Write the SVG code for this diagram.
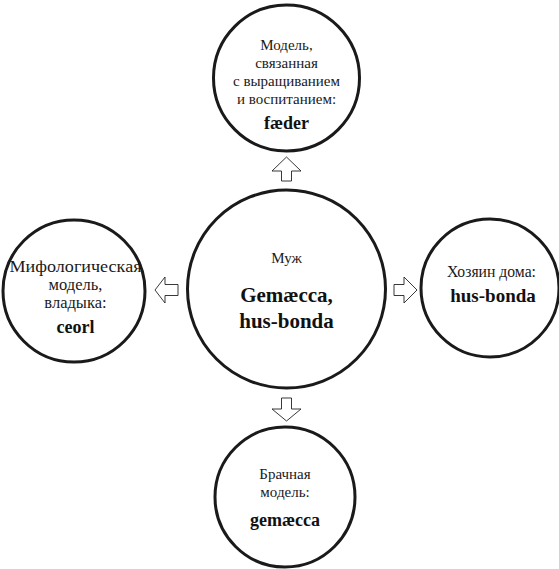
<svg xmlns="http://www.w3.org/2000/svg" width="559" height="569" viewBox="0 0 559 569">
<style>
.c{fill:#fff;stroke:#1a1a1a;stroke-width:3}
.a{fill:#fff;stroke:#222;stroke-width:0.9;stroke-linejoin:miter}
text{font-family:'Liberation Serif','Times New Roman',serif;text-anchor:middle}
.t{font-size:15px;fill:#1a1a1a}
.b{font-size:18px;font-weight:bold;fill:#111}
.bc{font-size:21px}
.tl{font-size:16.5px}
.br{font-size:19px}
</style>
<rect width="559" height="569" fill="#fff"/>
<g id="connectors">
<polygon class="a" points="286.5,157 301,171 291.5,171 291.5,181 281.5,181 281.5,171 272,171"/>
<polygon class="a" points="286.5,421 301,409 291.5,409 291.5,398 281.5,398 281.5,409 272,409"/>
<polygon class="a" points="155,290 165,277 165,284.5 178,284.5 178,295.5 165,295.5 165,303"/>
<polygon class="a" points="417,290 404,277 404,284.5 394,284.5 394,295.5 404,295.5 404,303"/>
</g>
<g id="center">
<circle class="c" cx="286.5" cy="289" r="99"/>
<text class="t" x="286.5" y="263">Муж</text>
<text class="b bc" x="286.5" y="302">Gemæcca,</text>
<text class="b bc" x="286.5" y="328">hus-bonda</text>
</g>
<g id="top">
<circle class="c" cx="286.5" cy="78" r="73"/>
<text class="t" x="286.5" y="50">Модель,</text>
<text class="t" x="286.5" y="68">связанная</text>
<text class="t" x="286.5" y="86">с выращиванием</text>
<text class="t" x="286.5" y="104">и воспитанием:</text>
<text class="b" x="286.5" y="129">fæder</text>
</g>
<g id="left">
<circle class="c" cx="74" cy="291" r="71"/>
<text class="t tl" x="75.5" y="272" textLength="132" lengthAdjust="spacingAndGlyphs">Мифологическая</text>
<text class="t tl" x="75.5" y="290">модель,</text>
<text class="t tl" x="75.5" y="308">владыка:</text>
<text class="b" x="75.5" y="333">ceorl</text>
</g>
<g id="right">
<circle class="c" cx="490" cy="288" r="69"/>
<text class="t" x="491.5" y="277" style="font-size:15.7px">Хозяин дома:</text>
<text class="b br" x="493" y="302">hus-bonda</text>
</g>
<g id="bottom">
<circle class="c" cx="285" cy="497" r="70"/>
<text class="t" x="285" y="479">Брачная</text>
<text class="t" x="285" y="497">модель:</text>
<text class="b" x="285" y="526">gemæcca</text>
</g>
</svg>
